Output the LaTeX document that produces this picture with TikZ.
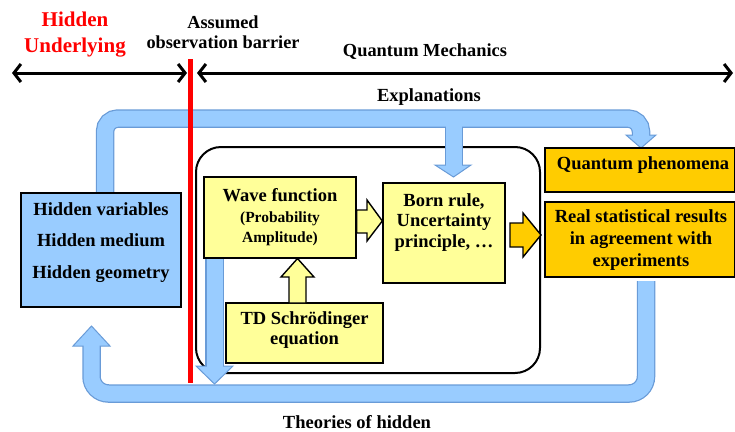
\documentclass[tikz,border=0pt]{standalone}
\usepackage{fontspec}
\setmainfont{Liberation Serif}
\usetikzlibrary{arrows.meta}
\definecolor{bandfill}{RGB}{153,204,255}
\definecolor{bandline}{RGB}{105,155,215}
\definecolor{lyellow}{RGB}{255,255,153}
\definecolor{qorange}{RGB}{255,204,0}
\begin{document}
\begin{tikzpicture}[x=1pt,y=-1pt,
  box/.style={draw=black,line width=1.4pt,inner sep=0pt},
  hidbox/.style={box,fill=bandfill},
  ybox/.style={box,fill=lyellow},
  obox/.style={box,fill=qorange},
  txt/.style={font=\bfseries\fontsize{18.5}{21}\selectfont,align=center,inner sep=0pt},
  bandout/.style={draw=bandline,line width=18.5pt},
  bandin/.style={draw=bandfill,line width=16pt},
  bhead/.style={fill=bandfill,draw=bandline,line width=1pt,line join=miter},
  yarrow/.style={fill=lyellow,draw=black,line width=1.4pt,line join=miter},
  oarrow/.style={fill=qorange,draw=black,line width=1.4pt,line join=miter},
  dbl/.style={line width=3pt,{Straight Barb[length=7pt,width=18pt,line width=3pt]}-{Straight Barb[length=7pt,width=18pt,line width=3pt]}}
]
\useasboundingbox (0,0) rectangle (735,431);

% big rounded frame
\draw[line width=2pt,rounded corners=25pt] (196,147) rectangle (540,373);

\coordinate (tA) at (105,118.5);
\coordinate (tB) at (641,118.5);
\coordinate (tC) at (641,135);
\coordinate (tD) at (454,118.5);
\coordinate (tE) at (454,165);
\coordinate (bA) at (646,281);
\coordinate (bB) at (646,393.5);
\coordinate (bC) at (91.5,393.5);
\coordinate (bD) at (91.5,346);
\coordinate (wA) at (214.5,258);
\coordinate (wB) at (214.5,366);

% blue band heads
\draw[bhead] (626,135) -- (656,135) -- (641,148) -- cycle;
\draw[bhead] (435,165) -- (471,165) -- (453.5,177) -- cycle;
\draw[bhead] (73,346) -- (110,346) -- (91.5,326) -- cycle;
\draw[bhead] (196,366) -- (233,366) -- (214.5,384) -- cycle;

% blue band outlines
\draw[bandout,rounded corners=13pt] (105,195) -- (tA) -- (tB) -- (tC);
\draw[bandout] (tD) -- (tE);
\draw[bandout,rounded corners=17pt] (bA) -- (bB) -- (bC) -- (bD);
\draw[bandout] (wA) -- (wB);
% blue band fills
\draw[bandin,rounded corners=13pt] (105,195) -- (tA) -- (tB) -- ([yshift=-1.2pt]tC);
\draw[bandin] (tD) -- ([yshift=-1.2pt]tE);
\draw[bandin,rounded corners=17pt] (bA) -- (bB) -- (bC) -- ([yshift=1.2pt]bD);
\draw[bandin] (wA) -- ([yshift=-1.2pt]wB);

% boxes
\node[hidbox,minimum width=160pt,minimum height=114pt] (hid) at (101,250) {};
\node[ybox,minimum width=152pt,minimum height=81pt] (wave) at (280,217.5) {};
\node[ybox,minimum width=122pt,minimum height=100pt] (born) at (444,233) {};
\node[ybox,minimum width=157pt,minimum height=60pt] (td) at (304.5,333) {};
\node[obox,minimum width=190pt,minimum height=44pt] (qp) at (640,170) {};
\node[obox,minimum width=190pt,minimum height=75pt] (real) at (640,239.5) {};

% yellow / orange block arrows
\draw[yarrow] (wave.east |- 0,210) -- (367,210) -- (367,200) -- (born.west |- 0,221) -- (367,241) -- (367,233) -- (wave.east |- 0,233) -- cycle;
\draw[yarrow] (289,303) -- (289,277) -- (281,277) -- (297.5,258.5) -- (314,277) -- (306,277) -- (306,303) -- cycle;
\draw[oarrow] (510,223) -- (523,223) -- (523,213) -- (541,235) -- (523,257) -- (523,247) -- (510,247) -- cycle;

% texts in boxes
\node[txt,font=\bfseries\fontsize{18.5}{31.5}\selectfont] (hidt) at (101,242.5) {Hidden variables\\Hidden medium\\Hidden geometry};
\node[txt,anchor=base] (wavet) at (280,201) {Wave function};
\node[txt,font=\bfseries\fontsize{15.5}{20}\selectfont,anchor=base] (wavet2) at (280,242) {(Probability\\Amplitude)};
\node[txt,font=\bfseries\fontsize{18.5}{20.7}\selectfont] (bornt) at (444,222.5) {Born rule,\\Uncertainty\\principle, …};
\node[txt,font=\bfseries\fontsize{18.5}{20}\selectfont] (tdt) at (304.5,330.5) {TD Schrödinger\\equation};
\node[txt] (qpt) at (643,165.5) {Quantum phenomena};
\node[txt,font=\bfseries\fontsize{18.5}{22}\selectfont] (realt) at (641,240) {Real statistical results\\in agreement with\\experiments};

% red barrier
\draw[red,line width=5pt] (190,59) -- (190,383);

% top double arrows
\coordinate (l1) at (12,73);
\coordinate (l2) at (187,73);
\coordinate (r1) at (197,73);
\coordinate (r2) at (733,73);
\draw[dbl] (l1) -- (l2);
\draw[dbl] (r1) -- (r2);

% labels
\node[txt,red,font=\bfseries\fontsize{21}{26}\selectfont] (hu) at (75,35) {Hidden\\Underlying};
\node[txt,font=\bfseries\fontsize{18.3}{20}\selectfont] (bar) at (223,32) {Assumed\\observation barrier};
\node[txt,font=\bfseries\fontsize{18.4}{20}\selectfont] (qm) at (425,52) {Quantum Mechanics};
\node[txt] (expl) at (429,97) {Explanations};
\node[txt] (theo) at (357,422) {Theories of hidden};
\end{tikzpicture}
\end{document}
